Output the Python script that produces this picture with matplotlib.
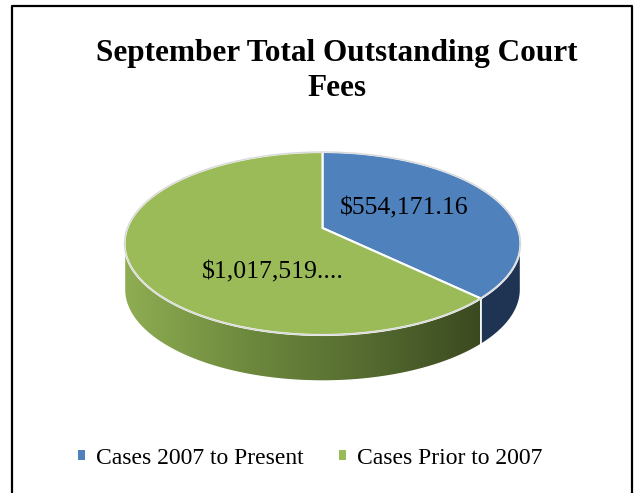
import matplotlib.pyplot as plt
import numpy as np
from matplotlib.patches import Polygon, Patch
from matplotlib.lines import Line2D
from matplotlib.colors import LinearSegmentedColormap

title = "September Total Outstanding Court\nFees"
labels = ["Cases 2007 to Present", "Cases Prior to 2007"]
values = [554171.16, 1017519.00]
value_texts = ["$554,171.16", "$1,017,519...."]
top_colors = ["#4F81BD", "#9BBB59"]
side_colors = ["#1E3452", "#3E4D22"]

plt.rcParams["font.family"] = ["Liberation Serif", "DejaVu Serif"]

fig = plt.figure(figsize=(6.39, 4.93), dpi=100)
ax = fig.add_axes([0, 0, 1, 1])
ax.set_xlim(0, 639)
ax.set_ylim(493, 0)
ax.axis("off")

# pie geometry in pixel space
cx, cy = 322.5, 243.5
a, b = 198, 91.5
vy = 228
depth = 46


def arc(t0, t1, n=200):
    t = np.radians(np.linspace(t0, t1, n))
    return np.column_stack([cx + a * np.cos(t), cy - b * np.sin(t)])


fracs = np.array(values) / sum(values)
starts = 90 - 360 * np.concatenate([[0], np.cumsum(fracs)[:-1]])
ends = starts - 360 * fracs

# sides, only the front half (angles 180..360) shows
for i in range(len(values)):
    s, e = ends[i] % 360, starts[i] % 360
    if e <= s:
        e += 360
    lo, hi = max(s, 180), min(e, 360)
    if hi <= lo:
        continue
    top = arc(lo, hi)
    pts = np.vstack([top, top[::-1] + [0, depth]])
    poly = Polygon(pts, closed=True, facecolor=side_colors[i],
                   edgecolor="white", linewidth=1.0, zorder=2)
    ax.add_patch(poly)
    if i == 1:
        cmap = LinearSegmentedColormap.from_list(
            "g", ["#8FAD52", "#6E8A3E", "#566C30", "#3B4920"])
        grad = np.linspace(0, 1, 256).reshape(1, -1)
        im = ax.imshow(grad, cmap=cmap, aspect="auto",
                       extent=(pts[:, 0].min(), pts[:, 0].max(),
                               pts[:, 1].max(), pts[:, 1].min()), zorder=2.5)
        im.set_clip_path(poly)
        ax.add_patch(Polygon(pts, closed=True, facecolor="none",
                             edgecolor="white", linewidth=1.0, zorder=2.6))

# top faces
for i in range(len(values)):
    pts = np.vstack([[cx, vy], arc(starts[i], ends[i])])
    ax.add_patch(Polygon(pts, closed=True, facecolor=top_colors[i],
                         edgecolor="white", linewidth=1.5, zorder=3))

ax.plot(*arc(0, 360, 400).T, color="#D9D9D9", linewidth=1.0, zorder=4)

# value labels
label_pos = [(404, 208), (273, 272)]
for (x, y), txt in zip(label_pos, value_texts):
    ax.text(x, y, txt, ha="center", va="center", fontsize=18.5, zorder=5)

# title
ax.text(337, 71, title, ha="center", va="center", fontsize=22.5,
        fontweight="bold", linespacing=1.25)

# legend
handles = [Patch(facecolor=c, edgecolor="none") for c in top_colors]
fig.legend(handles, labels, loc="center", bbox_to_anchor=(310 / 639, 1 - 458 / 493),
           ncol=2, frameon=False, fontsize=17, handlelength=0.3, handleheight=0.3,
           handletextpad=0.45, columnspacing=1.5)

# chart border
ax.add_line(Line2D([12, 12, 632, 632], [493, 6, 6, 493], color="black",
                   linewidth=1.6, zorder=6))

fig.savefig("out.png", dpi=100)
